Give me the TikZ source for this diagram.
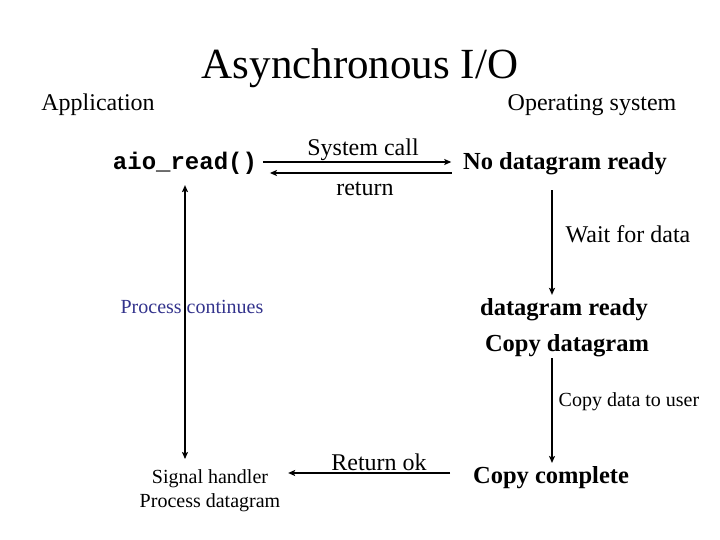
\documentclass[tikz,border=0pt]{standalone}
\usepackage{fontspec}
\setmainfont{Liberation Serif}
\setmonofont{Liberation Mono}
\usetikzlibrary{calc,arrows.meta}
\definecolor{procblue}{RGB}{51,51,140}
\begin{document}
\begin{tikzpicture}[x=1pt,y=-1pt,>={Stealth[length=7pt,width=6pt,inset=1.5pt]},line width=1.8pt,
  every node/.style={inner sep=0pt},
  big/.style={font=\fontsize{24}{28}\selectfont},
  small/.style={font=\fontsize{20}{24}\selectfont},
  bigb/.style={font=\fontsize{24.5}{28}\selectfont\bfseries}]
  \useasboundingbox (0,0) rectangle (720,540);

  % titel en kolommen
  \node[font=\fontsize{43}{50}\selectfont] (title) at (360,68) {Asynchronous I/O};
  \node[big] (app) at (98,105) {Application};
  \node[big] (os) at (592,105) {Operating system};

  % toestanden
  \node[font=\fontsize{24}{28}\selectfont\ttfamily\bfseries] (aio) at (185,163) {aio\_read()};
  \node[bigb] (nodr) at (565,164) {No datagram ready};
  \node[bigb] (dgr) at (564,310) {datagram ready};
  \node[bigb] (cpd) at (567,346) {Copy datagram};
  \node[bigb] (cc) at (551,478) {Copy complete};
  \node[small,align=center] (sig) at (210,491) {Signal handler\\Process datagram};
  \coordinate (rx) at (552,0);

  % labels
  \node[big] (syscall) at (363,150) {System call};
  \node[big] (ret) at (365,189) {return};
  \node[big] (wait) at (628,234) {Wait for data};
  \node[small,text=procblue] (cont) at (192,307) {Process continues};
  \node[small] (cpuser) at (629,402) {Copy data to user};
  \node[big] (retok) at (379,462) {Return ok};

  % pijlen
  \draw[->] ($(aio.east)+(5,-1)$) -- ($(nodr.west)+(-11,-2)$);
  \draw[<-] ($(aio.east)+(12,10)$) -- ($(nodr.west)+(-10,9)$);
  \draw[<->,shorten <=10pt,shorten >=10pt] (aio.south) -- (aio.south |- sig.north);
  \draw[->,shorten <=14pt,shorten >=3pt] (nodr.south -| rx) -- (dgr.north -| rx);
  \draw[->,shorten >=3pt] (cpd.south -| rx) -- (cc.north -| rx);
  \draw[->,shorten <=22pt,shorten >=7pt] ($(cc.west)+(0,-5)$) -- ($(cc.west -| sig.east)+(0,-5)$);
\end{tikzpicture}
\end{document}
